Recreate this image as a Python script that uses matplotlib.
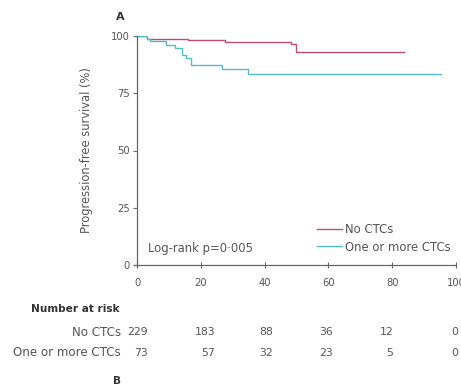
import matplotlib
matplotlib.use("Agg")
import matplotlib.pyplot as plt

# Kaplan-Meier step data (months, % progression-free)
no_ctc_t = [0, 3, 16, 27.5, 48.4, 49.9, 83.7]
no_ctc_s = [100, 98.9, 98.2, 97.5, 96.5, 93.1, 93.1]
ctc_t = [0, 3, 4.2, 9.2, 11.9, 14, 15.5, 17, 26.5, 34.7, 95.2]
ctc_s = [100, 98.5, 97.7, 96.0, 94.6, 91.7, 90.2, 87.3, 85.8, 83.6, 83.6]

x_ticks = [0, 20, 40, 60, 80, 100]
y_ticks = [0, 25, 50, 75, 100]

# number at risk
risk_groups = ["No CTCs", "One or more CTCs"]
risk_no_ctc = [229, 183, 88, 36, 12, 0]
risk_ctc = [73, 57, 32, 23, 5, 0]
# the risk numbers sit right-aligned a little past each tick in the original
risk_nudge = [3.4, 4.5, 2.6, 1.4, 0.3, 0.6]

red = "#bd4d70"
blue = "#52bccb"
grey = "#555555"

plt.rcParams["font.family"] = ["DejaVu Sans"]

fig = plt.figure(figsize=(4.61, 3.85), dpi=100)
W, H = 461, 385
ax = fig.add_axes([137 / W, (H - 265) / H, (456 - 137) / W, (265 - 36) / H])

ax.step(no_ctc_t, no_ctc_s, where="post", color=red, lw=1.0, label="No CTCs")
ax.step(ctc_t, ctc_s, where="post", color=blue, lw=1.0, label="One or more CTCs")

ax.set_xlim(0, 100)
ax.set_ylim(0, 100)
ax.set_xticks(x_ticks)
ax.set_yticks(y_ticks)
ax.tick_params(axis="x", direction="inout", length=4, width=0.8, colors="#666666",
               labelcolor=grey, labelsize=7.2, pad=7)
ax.tick_params(axis="y", direction="out", length=3, width=0.8, colors="#666666",
               labelcolor=grey, labelsize=7.2, pad=2)
for side in ("top", "right"):
    ax.spines[side].set_visible(False)
for side in ("left", "bottom"):
    ax.spines[side].set_color("#666666")
    ax.spines[side].set_linewidth(0.9)
ax.spines["bottom"].set_bounds(-1, 100)
ax.patch.set_visible(False)

ax.set_ylabel("Progression-free survival (%)", fontsize=8.3, color=grey, labelpad=13)
ax.text(3.5, 7.2, "Log-rank p=0·005", fontsize=8.4, color=grey, ha="left", va="center")

leg = ax.legend(loc="center left", bbox_to_anchor=(317 / W, 1 - 238.5 / H),
                bbox_transform=fig.transFigure, frameon=False, fontsize=8.4,
                handlelength=2.1, handletextpad=0.3, labelspacing=0.35,
                borderaxespad=0, borderpad=0)
for t in leg.get_texts():
    t.set_color(grey)

fig.text(120 / W, 1 - 17 / H, "A", fontsize=8, fontweight="bold", color="#333333",
         ha="center", va="center")
fig.text(119 / W, 1 - 309 / H, "Number at risk", fontsize=7.6, fontweight="bold",
         color="#333333", ha="right", va="center")
for row, (name, vals) in enumerate(zip(risk_groups, [risk_no_ctc, risk_ctc])):
    yy = 1 - (332 + 20.5 * row) / H
    fig.text(121 / W, yy, name, fontsize=8.6, color=grey, ha="right", va="center")
    for t, v, dx in zip(x_ticks, vals, risk_nudge):
        xf = ax.transData.transform((t + dx, 0))[0] / W
        fig.text(xf, yy, str(v), fontsize=7.8, color=grey, ha="right", va="center")
fig.text(117 / W, 1 - 381 / H, "B", fontsize=7.5, fontweight="bold", color="#333333",
         ha="center", va="center")

fig.savefig("out.png", dpi=100)
